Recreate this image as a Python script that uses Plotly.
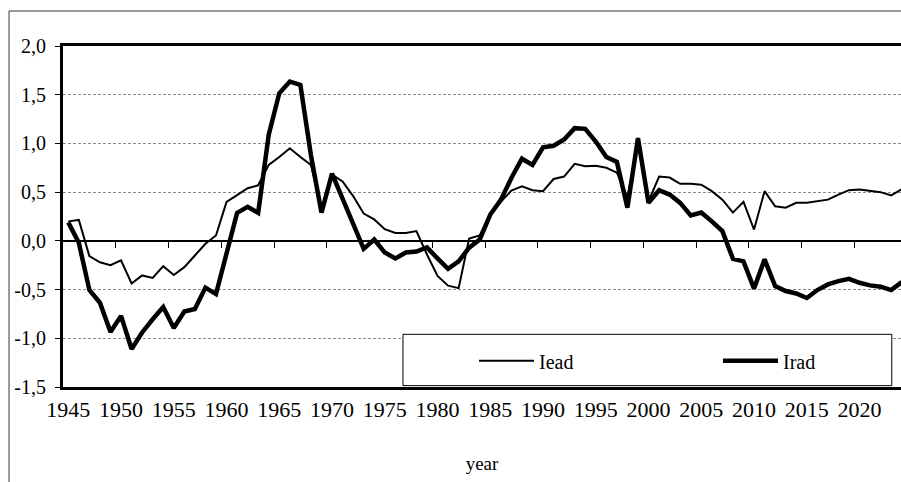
import plotly.graph_objects as go

years = list(range(1945, 2025))

iead = [0.20, 0.215, -0.157, -0.22, -0.25, -0.20, -0.437, -0.355, -0.38, -0.26,
        -0.35, -0.27, -0.15, -0.03, 0.055, 0.40, 0.47, 0.54, 0.57, 0.78,
        0.86, 0.95, 0.86, 0.78, 0.32, 0.68, 0.61, 0.46, 0.28, 0.22,
        0.12, 0.08, 0.08, 0.10, -0.14, -0.36, -0.46, -0.485, 0.024, 0.055,
        0.27, 0.40, 0.515, 0.56, 0.52, 0.51, 0.635, 0.66, 0.79, 0.765,
        0.77, 0.75, 0.70, 0.45, 1.00, 0.406, 0.66, 0.65, 0.585, 0.587,
        0.577, 0.51, 0.423, 0.29, 0.40, 0.116, 0.51, 0.355, 0.34, 0.39,
        0.39, 0.406, 0.423, 0.474, 0.52, 0.526, 0.51, 0.50, 0.467, 0.53]

irad = [0.19, -0.02, -0.505, -0.635, -0.935, -0.77, -1.11, -0.94, -0.805, -0.68,
        -0.895, -0.725, -0.70, -0.48, -0.546, -0.12, 0.287, 0.35, 0.287, 1.09,
        1.515, 1.635, 1.60, 0.88, 0.29, 0.69, 0.44, 0.18, -0.082, 0.014,
        -0.12, -0.18, -0.12, -0.11, -0.068, -0.18, -0.287, -0.21, -0.07, 0.014,
        0.27, 0.42, 0.645, 0.843, 0.78, 0.96, 0.976, 1.04, 1.157, 1.15,
        1.02, 0.86, 0.81, 0.34, 1.055, 0.39, 0.52, 0.475, 0.39, 0.26,
        0.29, 0.20, 0.10, -0.185, -0.21, -0.49, -0.19, -0.464, -0.515, -0.54,
        -0.586, -0.505, -0.447, -0.413, -0.39, -0.43, -0.457, -0.47, -0.505, -0.423]

x_label_years = list(range(1945, 2021, 5))
x_tick_marks = [y - 0.5 for y in range(1950, 2021, 5)]
y_tick_vals = [-1.5, -1.0, -0.5, 0.0, 0.5, 1.0, 1.5, 2.0]
y_tick_text = ["-1,5", "-1,0", "-0,5", "0,0", "0,5", "1,0", "1,5", "2,0"]

FONT = "Liberation Serif, Tinos, 'Times New Roman', 'DejaVu Serif', serif"
x_range = [1944.5, 2023.93]

fig = go.Figure()
fig.add_trace(go.Scatter(x=years, y=iead, name="Iead", mode="lines", legend="legend",
                         line=dict(color="black", width=2)))
fig.add_trace(go.Scatter(x=years, y=irad, name="Irad", mode="lines", legend="legend2",
                         line=dict(color="black", width=4.5)))
fig.add_trace(go.Scatter(x=[], y=[], xaxis="x2", showlegend=False, hoverinfo="skip"))

# legend box (Excel-style, full width)
fig.add_shape(type="rect", xref="paper", yref="paper",
              x0=0.4057, x1=0.989, y0=0.004, y1=0.1545,
              line=dict(color="black", width=1), fillcolor="white", layer="above")
# outer chart-area frame
fig.add_shape(type="line", xref="paper", yref="paper",
              x0=-0.0644, x1=1.01, y0=1.1026, y1=1.1026,
              line=dict(color="#333333", width=1))
fig.add_shape(type="line", xref="paper", yref="paper",
              x0=-0.0644, x1=-0.0644, y0=1.1026, y1=-0.4,
              line=dict(color="#333333", width=1))

leg_common = dict(orientation="v", yanchor="middle", xanchor="left", y=0.0771,
                  itemwidth=55, bgcolor="rgba(0,0,0,0)",
                  font=dict(family=FONT, size=20, color="black"))

fig.update_layout(
    width=901, height=482,
    margin=dict(l=63, r=0, t=46, b=95),
    paper_bgcolor="white", plot_bgcolor="white",
    font=dict(family=FONT, size=20, color="black"),
    showlegend=True,
    legend=dict(x=0.4905, **leg_common),
    legend2=dict(x=0.7816, **leg_common),
    xaxis=dict(range=x_range, tickvals=x_label_years,
               ticktext=[str(v) for v in x_label_years],
               tickfont=dict(family=FONT, size=22, color="black"),
               ticks="", showline=True, linewidth=3, linecolor="black", mirror=True,
               showgrid=False, zeroline=False, ticklabelstandoff=1,
               title=dict(text="year", standoff=36, font=dict(family=FONT, size=19))),
    xaxis2=dict(range=x_range, overlaying="x", anchor="free", position=1.5 / 3.5,
                showline=True, linewidth=1.5, linecolor="black",
                tickvals=x_tick_marks, ticks="outside", ticklen=6, tickwidth=1,
                tickcolor="black", showticklabels=False, showgrid=False, zeroline=False),
    yaxis=dict(range=[-1.5, 2.0], tickvals=y_tick_vals, ticktext=y_tick_text,
               tickfont=dict(family=FONT, size=20, color="black"), ticklabelstandoff=5,
               ticks="outside", ticklen=5, tickcolor="black", tickwidth=1,
               showline=True, linewidth=3, linecolor="black",
               showgrid=True, gridcolor="#8c8c8c", gridwidth=1, griddash="3px,2px",
               zeroline=False),
)

page_fix = ("document.body.style.margin='0';"
            "document.body.style.overflow='hidden';"
            "document.documentElement.style.overflow='hidden';")

fig.write_html("out.html", post_script=page_fix, config={"displayModeBar": False})
